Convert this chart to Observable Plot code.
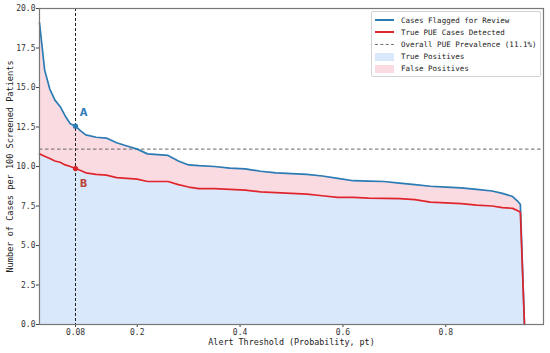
<!DOCTYPE html>
<html>
<head>
<meta charset="utf-8">
<script src="https://cdn.jsdelivr.net/npm/d3@7"></script>
<script src="https://cdn.jsdelivr.net/npm/@observablehq/plot@0.6"></script>
<style>
  html, body { margin: 0; padding: 0; background: #fff; }
  #wrap { position: relative; width: 550px; height: 353px; }
  #legend {
    position: absolute; left: 371px; top: 11px; width: 170px; height: 66px;
    border: 1px solid #d4d4d4; border-radius: 2px; background: rgba(255,255,255,0.85);
    font-family: "DejaVu Sans Mono", monospace; font-size: 7.5px; color: #222; box-sizing: border-box;
  }
  .row { position: absolute; left: 0; height: 12px; display: flex; align-items: center; white-space: nowrap; }
  .sw { width: 19px; margin-left: 3px; margin-right: 7px; display: inline-block; flex: none; }
</style>
</head>
<body>
<div id="wrap"></div>
<script>
// ---- data ----
const thresholds = [0.01,0.02,0.03,0.04,0.05,0.06,0.07,0.08,0.09,0.10,0.12,0.14,0.16,0.18,0.20,0.22,0.24,0.26,0.28,0.30,0.32,0.35,0.38,0.41,0.44,0.47,0.50,0.53,0.56,0.59,0.62,0.65,0.68,0.71,0.74,0.77,0.80,0.83,0.86,0.89,0.91,0.93,0.94,0.945,0.953];
const flagged = [19.1,16.1,14.9,14.2,13.8,13.2,12.7,12.55,12.25,12.0,11.85,11.8,11.5,11.3,11.1,10.8,10.75,10.7,10.35,10.1,10.05,10.0,9.9,9.85,9.7,9.6,9.55,9.5,9.4,9.25,9.1,9.07,9.05,8.95,8.85,8.75,8.7,8.65,8.55,8.45,8.3,8.1,7.8,7.6,0];
const detected = [10.8,10.65,10.5,10.35,10.27,10.1,10.0,9.87,9.75,9.6,9.5,9.45,9.3,9.25,9.2,9.05,9.05,9.05,8.85,8.7,8.6,8.6,8.55,8.5,8.4,8.35,8.3,8.25,8.15,8.05,8.05,8.0,7.98,7.97,7.9,7.75,7.7,7.65,7.55,7.5,7.4,7.35,7.2,7.1,0];
const prevalence = 11.1;
const markerThreshold = 0.08;
const markerLabels = ["A", "B"];
const xTicks = [0.08, 0.2, 0.4, 0.6, 0.8];
const yTicks = [0, 2.5, 5, 7.5, 10, 12.5, 15, 17.5, 20];
const legendLabels = ["Cases Flagged for Review", "True PUE Cases Detected", "Overall PUE Prevalence (11.1%)", "True Positives", "False Positives"];

const data = thresholds.map((t, i) => ({t, flagged: flagged[i], detected: detected[i]}));
const iA = thresholds.indexOf(markerThreshold);
const markers = [
  {t: markerThreshold, v: flagged[iA], label: markerLabels[0], color: "#2b7bb5"},
  {t: markerThreshold, v: detected[iA], label: markerLabels[1], color: "#d8262b"}
];

const BLUE = "#2b7bb5", RED = "#e0262c", TPF = "#dae8fb", FPF = "#fbdbe2";
const mono = "DejaVu Sans Mono, monospace";

const chart = Plot.plot({
  width: 550, height: 353,
  marginLeft: 39, marginRight: 7, marginTop: 8, marginBottom: 29,
  style: {fontFamily: mono, fontSize: "8px", color: "#333", background: "transparent"},
  x: {domain: [0.01, 0.99]},
  y: {domain: [0, 20]},
  marks: [
    Plot.areaY(data, {x: "t", y1: 0, y2: "detected", fill: TPF}),
    Plot.areaY(data, {x: "t", y1: "detected", y2: "flagged", fill: FPF}),
    Plot.ruleY([prevalence], {stroke: "#666", strokeWidth: 1, strokeDasharray: "3.5,2.5"}),
    Plot.ruleX([markerThreshold], {stroke: "#222", strokeWidth: 1, strokeDasharray: "3,2"}),
    Plot.lineY(data, {x: "t", y: "flagged", stroke: BLUE, strokeWidth: 1.7}),
    Plot.lineY(data, {x: "t", y: "detected", stroke: RED, strokeWidth: 1.7}),
    Plot.dot(markers, {x: "t", y: "v", fill: "color", r: 2.6, stroke: "none"}),
    Plot.text(markers.slice(0,1), {x: "t", y: "v", text: "label", fill: "color", dx: 8, dy: -13, fontSize: 10, fontWeight: "bold", fontFamily: "DejaVu Sans, sans-serif"}),
    Plot.text(markers.slice(1), {x: "t", y: "v", text: "label", fill: "#b8433a", dx: 8, dy: 15, fontSize: 10, fontWeight: "bold", fontFamily: "DejaVu Sans, sans-serif"}),
    Plot.axisX({ticks: xTicks, tickFormat: d => d === 0.08 ? "0.08" : d3.format(".1f")(d), tickSize: 3, tickPadding: 2, label: null, stroke: "#444"}),
    Plot.axisY({ticks: yTicks, tickFormat: d3.format(".1f"), tickSize: 3, tickPadding: 1, label: null, stroke: "#444"}),
    Plot.frame({stroke: "#777", strokeWidth: 1.2}),
    Plot.text(["Alert Threshold (Probability, pt)"], {frameAnchor: "bottom", dy: 20, fontSize: 8.4, fill: "#222"}),
    Plot.text(["Number of Cases per 100 Screened Patients"], {frameAnchor: "left", textAnchor: "middle", dx: -29, rotate: -90, fontSize: 8.6, fill: "#222"})
  ]
});
document.getElementById("wrap").appendChild(chart);

// legend
const legend = document.createElement("div");
legend.id = "legend";
const swatches = [
  `<span class="sw" style="height:2px;background:${BLUE}"></span>`,
  `<span class="sw" style="height:2px;background:${RED}"></span>`,
  `<span class="sw" style="height:0;border-top:1px dashed #777"></span>`,
  `<span class="sw" style="height:8px;background:${TPF}"></span>`,
  `<span class="sw" style="height:8px;background:${FPF}"></span>`
];
legendLabels.forEach((lab, i) => {
  const r = document.createElement("div");
  r.className = "row";
  r.style.top = (2 + i * 12.2) + "px";
  r.innerHTML = swatches[i] + `<span>${lab}</span>`;
  legend.appendChild(r);
});
document.getElementById("wrap").appendChild(legend);
</script>
</body>
</html>
